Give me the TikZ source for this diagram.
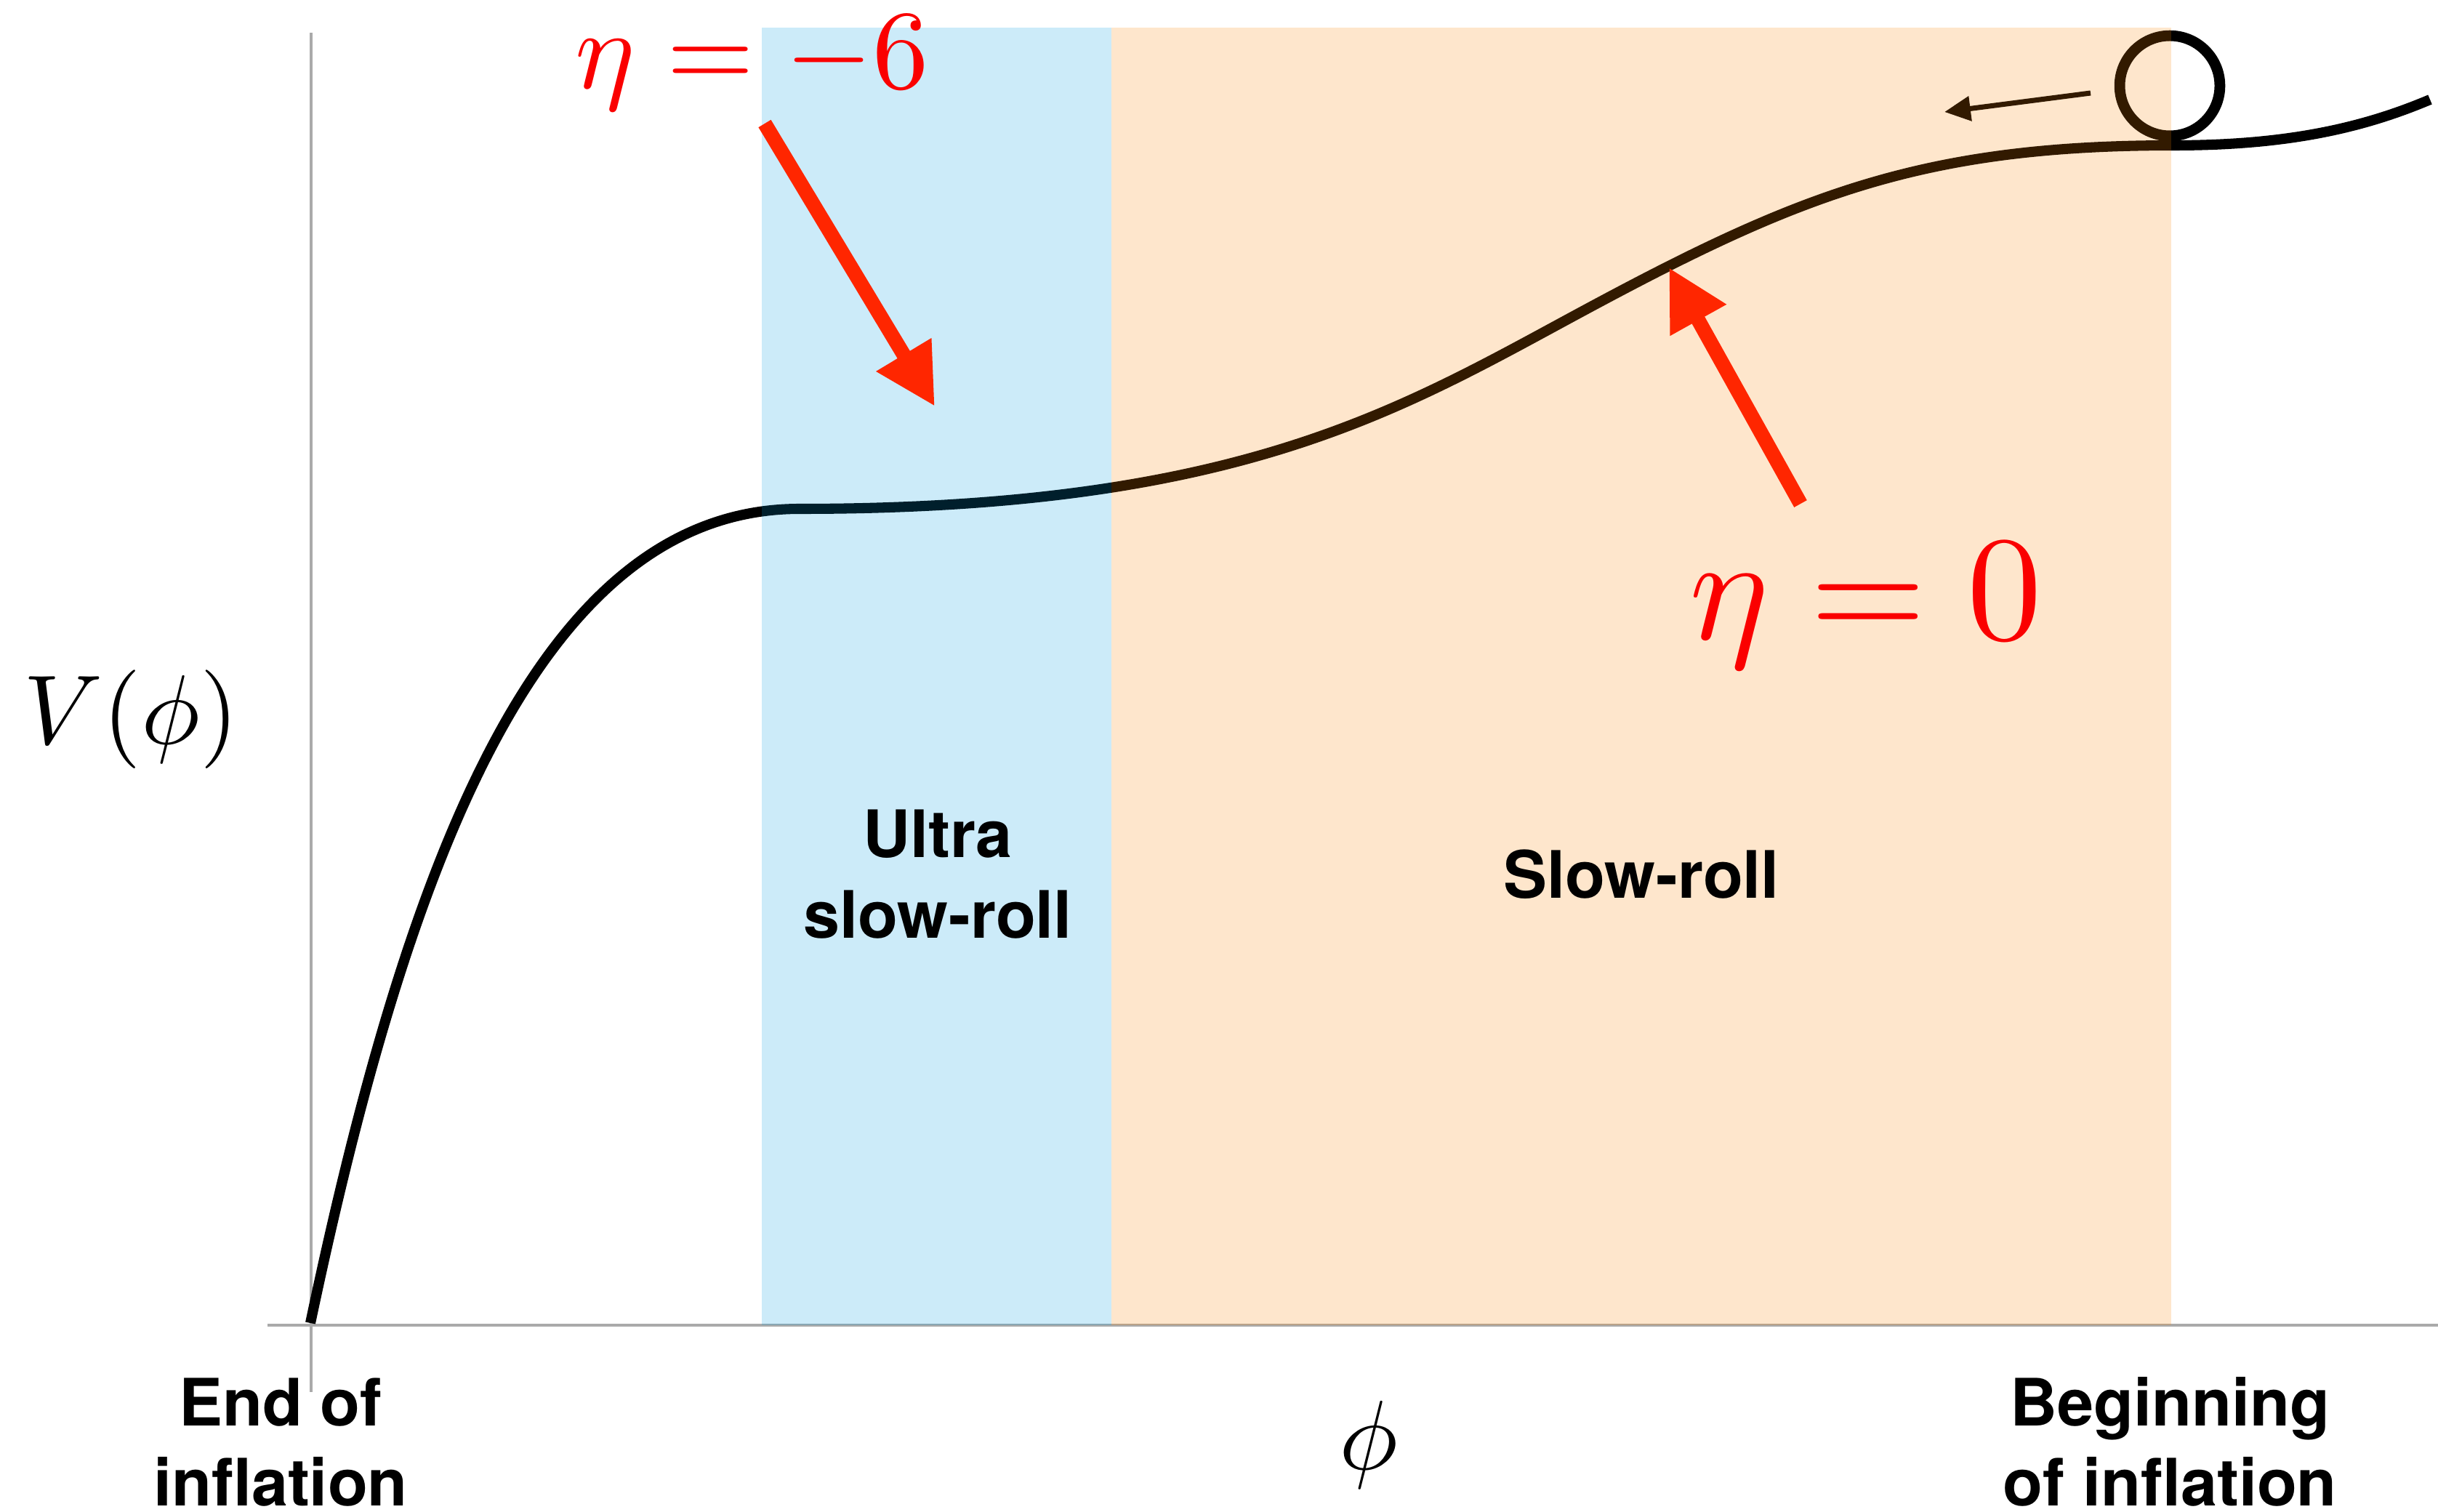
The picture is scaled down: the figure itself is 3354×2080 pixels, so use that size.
\documentclass[tikz,border=0pt]{standalone}
\usepackage{fontspec}
\usepackage{graphicx}
\usetikzlibrary{arrows.meta}
\newfontfamily\heros{TeX Gyre Heros}
\definecolor{usrblue}{RGB}{0,155,223}
\definecolor{srorange}{RGB}{250,130,0}
\definecolor{pointred}{RGB}{255,38,0}
\definecolor{etared}{RGB}{250,0,0}
\definecolor{axisgray}{RGB}{170,170,170}

\begin{document}
\begin{tikzpicture}[x=0.05mm, y=-0.05mm,
  axis/.style={axisgray, line width=0.45pt},
  band/.style={fill opacity=0.2},
  potential/.style={line width=2pt},
  regime/.style={font=\heros\bfseries\fontsize{12.8}{15.65}\selectfont, align=center, anchor=base, inner sep=0pt},
  etalabel/.style={text=etared, anchor=base, inner sep=0pt},
  mathlabel/.style={anchor=base, inner sep=0pt},
  pointer/.style={pointred, line width=2.85pt, -{Triangle[length=11.8pt, width=11.8pt]}}]
  \useasboundingbox (0,0) rectangle (3354,2080);

  \draw[axis] (428,45) -- (428,1915);
  \draw[axis] (368,1823) -- (3354,1823);

  \coordinate (bottom) at (427,1820);
  \coordinate (plateau) at (1100,700);
  \coordinate (inflect) at (2170,432);
  \coordinate (top) at (2990,200);
  \coordinate (rim) at (3343,137);
  \draw[potential] (bottom) .. controls (560,1190) and (740,700) .. (plateau)
    .. controls (1700,700) and (1920,567) .. (inflect)
    .. controls (2470,270) and (2640,200) .. (top)
    .. controls (3150,200) and (3253,175) .. (rim);

  \node[circle, draw, line width=2.1pt, minimum size=19.6pt, inner sep=0pt] (ball) at (2985,118) {};
  \coordinate (rollfrom) at (2876,128);
  \coordinate (rollto) at (2675,154);
  \draw[line width=1pt, -{Triangle[length=5.1pt, width=4.7pt]}] (rollfrom) -- (rollto);

  \fill[band, usrblue] (1048,38) rectangle (1529,1823);
  \fill[band, srorange] (1529,38) rectangle (2987,1823);

  \node[regime] (usr) at (1290,1290) {Ultra\\slow-roll};
  \node[regime] (sr) at (2258,1235) {Slow-roll};
  \node[regime] (end) at (386,2071) {End of\\inflation};
  \node[regime] (begin) at (2985,2071) {Beginning\\of inflation};

  \node[mathlabel] (pot) at (180,1023) {\scalebox{1.93}{$V(\phi)$}};
  \node[mathlabel] (field) at (1883,2021) {\scalebox{1.93}{$\phi$}};

  \node[etalabel] (etausr) at (1035,122) {\scalebox{2.2}{$\eta = -6$}};
  \node[etalabel] (etasr) at (2567,879) {\scalebox{2.92}{$\eta = 0$}};

  \coordinate (usrtail) at (1052,170);
  \coordinate (usrtip) at (1286,559);
  \coordinate (srtail) at (2477,693);
  \coordinate (srtip) at (2296,368);
  \draw[pointer] (usrtail) -- (usrtip);
  \draw[pointer] (srtail) -- (srtip);
\end{tikzpicture}
\end{document}
